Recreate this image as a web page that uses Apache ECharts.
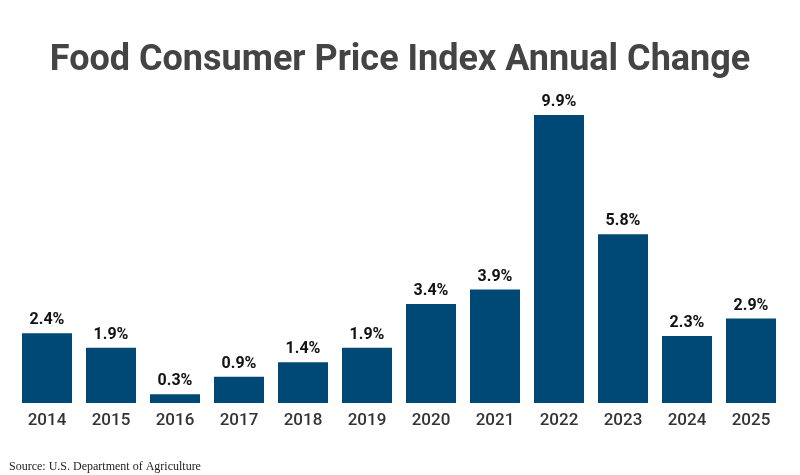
<!DOCTYPE html>
<html>
<head>
<meta charset="utf-8">
<script src="https://cdn.jsdelivr.net/npm/echarts@6/dist/echarts.min.js"></script>
<style>
  html, body { margin: 0; padding: 0; background: #fff; }
  #chart { width: 800px; height: 475px; }
</style>
</head>
<body>
<div id="chart"></div>
<script>
// 年份与年度变化（%）
const years = ['2014', '2015', '2016', '2017', '2018', '2019', '2020', '2021', '2022', '2023', '2024', '2025'];
const changes = [2.4, 1.9, 0.3, 0.9, 1.4, 1.9, 3.4, 3.9, 9.9, 5.8, 2.3, 2.9];

const myChart = echarts.init(document.getElementById('chart'));
myChart.setOption({
    animation: false,
    title: [
        {
            text: 'Food Consumer Price Index Annual Change',
            left: 'center',
            top: 38,
            textStyle: { fontFamily: 'Roboto', fontWeight: 'bold', fontSize: 36, color: '#444444' }
        },
        {
            text: 'Source: U.S. Department of Agriculture',
            left: 4,
            top: 456,
            textStyle: { fontFamily: 'Liberation Serif', fontWeight: 'normal', fontSize: 12, color: '#222222' }
        }
    ],
    grid: { left: 15, right: 17, top: 112, bottom: 72 },
    xAxis: {
        type: 'category',
        data: years,
        axisLine: { show: false },
        axisTick: { show: false },
        axisLabel: { margin: 9, fontFamily: 'Roboto', fontSize: 17, fontWeight: 500, color: '#333333' }
    },
    yAxis: {
        type: 'value',
        min: 0,
        max: 10,
        show: false
    },
    series: [{
        type: 'bar',
        data: changes,
        barWidth: 50,
        itemStyle: { color: '#004876' },
        label: {
            show: true,
            position: 'top',
            distance: 5,
            formatter: p => p.value.toFixed(1) + '%',
            fontFamily: 'Roboto',
            fontWeight: 'bold',
            fontSize: 16,
            color: '#111111'
        }
    }]
});
</script>
</body>
</html>
